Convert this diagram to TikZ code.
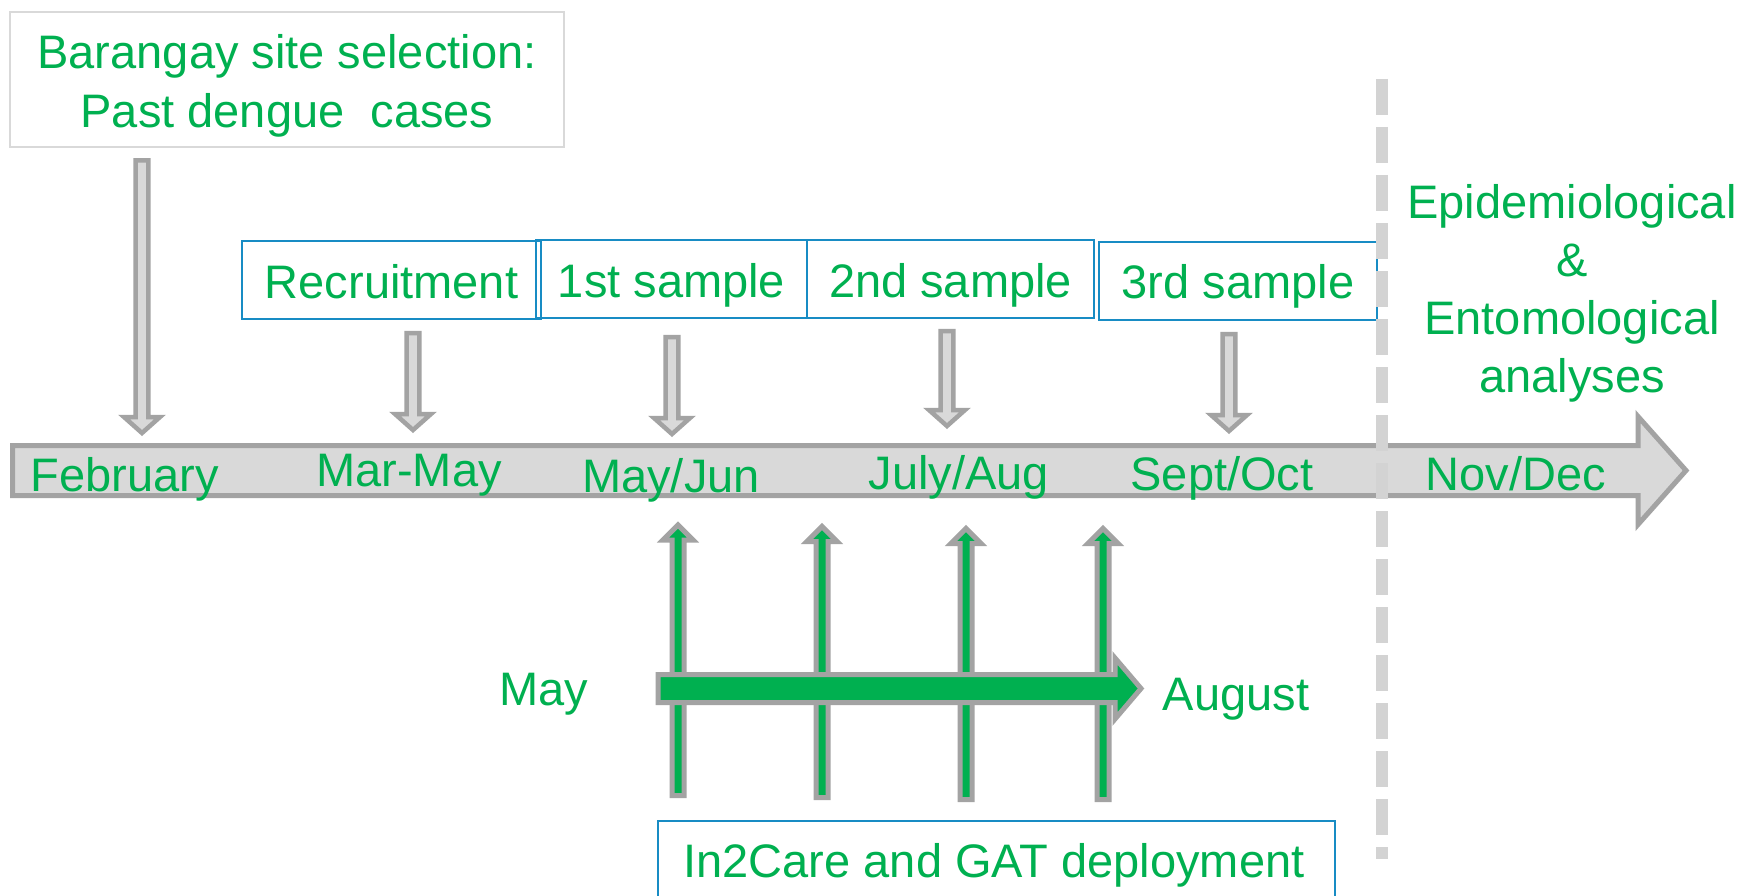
\documentclass[tikz,border=0pt]{standalone}
\usepackage{fontspec}
\setmainfont{Liberation Sans}
\definecolor{tgreen}{RGB}{0,176,80}
\definecolor{tblue}{RGB}{24,140,196}
\definecolor{agray}{RGB}{163,163,163}
\definecolor{afill}{RGB}{217,217,217}
\definecolor{dgray}{RGB}{211,211,211}
\definecolor{bgray}{RGB}{217,217,217}
\newcommand\downblk[3]{\draw[hollowarr] ({#1-6.3},{#2}) -- ({#1+6.3},{#2}) -- ({#1+6.3},{#3-16}) -- ({#1+18},{#3-16}) -- ({#1},{#3}) -- ({#1-18},{#3-16}) -- ({#1-6.3},{#3-16}) -- cycle;}
\newcommand\upblk[3]{\draw[greenarr] ({#1-6},{#3}) -- ({#1+6},{#3}) -- ({#1+6},{#2+15}) -- ({#1+15},{#2+15}) -- ({#1},{#2}) -- ({#1-15},{#2+15}) -- ({#1-6},{#2+15}) -- cycle;}
\begin{document}
\begin{tikzpicture}[x=1pt,y=-1pt,
  txt/.style={text=tgreen, font=\fontsize{47}{58}\selectfont, inner sep=0pt},
  bluebox/.style={draw=tblue, line width=2pt, text=tgreen, font=\fontsize{47}{58}\selectfont,
     text height=36pt, text depth=0pt, inner sep=0pt, minimum height=78pt},
  hollowarr/.style={draw=agray, fill=afill, line width=4.5pt},
  greenarr/.style={draw=agray, fill=tgreen, line width=5pt},
  timeline/.style={draw=agray, fill=afill, line width=5pt},
  dashline/.style={draw=dgray, line width=11.5pt, dash pattern=on 36pt off 12pt}]
\useasboundingbox (0,0) rectangle (1744,896);
\fill[white] (0,0) rectangle (1744,896);

% top box
\node[draw=bgray, line width=2pt, minimum width=554pt, minimum height=135pt, inner sep=0pt] (bar) at (287,79.5) {};
\node[txt, align=center, anchor=north, font=\fontsize{47}{59}\selectfont] (bartxt) at (287,34) {Barangay site selection:\\Past dengue\ \ cases};

% phase boxes
\node[bluebox, minimum width=299pt] (rec) at (391.5,280) {Recruitment};
\node[bluebox, minimum width=271pt] (s1) at (671.5,279) {1st sample};
\node[bluebox, minimum width=287pt] (s2) at (950.5,279) {2nd sample};
\node[bluebox, minimum width=278pt] (s3) at (1238,280.5) {3rd sample};

% down arrows
\downblk{142}{160.3}{433}
\downblk{413}{333}{430}
\downblk{672}{337}{434}
\downblk{947}{331}{426}
\downblk{1229}{334}{431}

% timeline arrow
\draw[timeline] (12.5,445.5) -- (1638,445.5) -- (1638,416.5) -- (1686,470.5) -- (1638,524.5) -- (1638,495.5) -- (12.5,495.5) -- cycle;

% month labels
\node[txt, anchor=base] (feb) at (125,491) {February};
\node[txt, anchor=base] (mar) at (409,486) {Mar-May};
\node[txt, anchor=base] (may) at (671,492) {May/Jun};
\node[txt, anchor=base] (jul) at (959,489) {July/Aug};
\node[txt, anchor=base] (sep) at (1222,490) {Sept/Oct};
\node[txt, anchor=base] (nov) at (1516,490) {Nov/Dec};

% dashed separator
\draw[dashline] (1382,79) -- (1382,859);

% right text
\node[txt, align=center, anchor=north] (ana) at (1572,184) {Epidemiological\\\&\\Entomological\\analyses};

% up arrows
\upblk{678}{525}{795.5}
\upblk{822}{526.5}{797.5}
\upblk{966}{528.5}{799.5}
\upblk{1103}{528.5}{799.5}

% green horizontal arrow
\draw[greenarr] (658,674.5) -- (1115,674.5) -- (1115,658) -- (1141,688.5) -- (1115,719) -- (1115,702.5) -- (658,702.5) -- cycle;
\node[txt, anchor=base] (mayl) at (544,705) {May};
\node[txt, anchor=base] (augl) at (1236,710) {August};

% deployment box
\draw[tblue, line width=2pt] (658,905) -- (658,821) -- (1335,821) -- (1335,905);
\node[txt, anchor=base] (dep) at (994,877) {In2Care and GAT deployment};
\end{tikzpicture}
\end{document}
